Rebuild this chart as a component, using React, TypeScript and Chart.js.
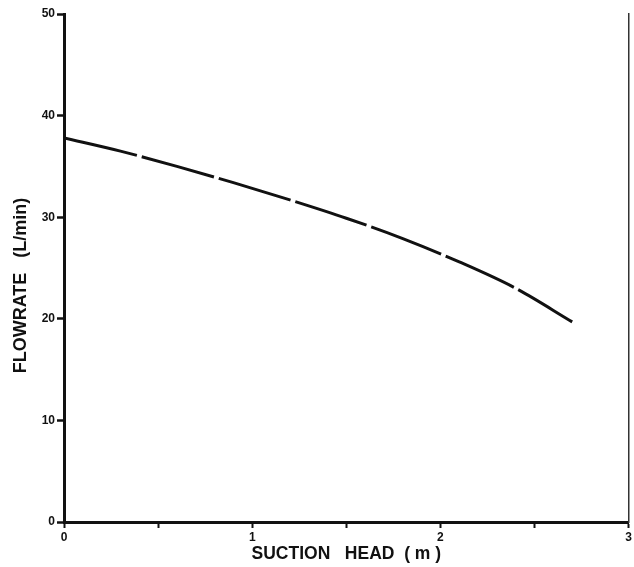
import React, { useEffect, useRef } from "react";
import { Chart, registerables } from "chart.js";

Chart.register(...registerables);

const suctionHead = [0, 0.3, 0.6, 0.9, 1.2, 1.5, 1.8, 2.1, 2.4, 2.7];
const flowrate = [37.8, 36.5, 35.0, 33.4, 31.7, 29.9, 27.9, 25.6, 23.0, 19.7];
const xTickLabels = ["0", "1", "2", "3"];
const yTickLabels = ["0", "10", "20", "30", "40", "50"];
const xTitle = "SUCTION   HEAD  ( m )";
const yTitle = "FLOWRATE   (L/min)       ";

export default function App() {
  const ref = useRef<HTMLCanvasElement | null>(null);

  useEffect(() => {
    if (!ref.current) return;
    const font = "'Liberation Sans', Arial, sans-serif";
    const chart = new Chart(ref.current, {
      type: "line",
      data: {
        datasets: [
          {
            data: suctionHead.map((x, i) => ({ x, y: flowrate[i] })),
            borderColor: "#111",
            borderWidth: 3,
            borderDash: [75, 5],
            pointRadius: 0,
            cubicInterpolationMode: "monotone",
            fill: false,
          },
        ],
      },
      options: {
        animation: false,
        responsive: false,
        devicePixelRatio: 1,
        layout: { padding: { top: 14, right: 0, left: 0, bottom: 0 } },
        plugins: { legend: { display: false }, tooltip: { enabled: false } },
        scales: {
          x: {
            type: "linear",
            min: 0,
            max: 3,
            afterFit: (s: any) => {
              s.height = 45;
            },
            ticks: {
              stepSize: 0.5,
              autoSkip: false,
              maxRotation: 0,
              padding: 2,
              color: "#111",
              font: { family: font, size: 12, weight: "bold" },
              callback: (v: any) => {
                const n = Number(v);
                return Number.isInteger(n) ? xTickLabels[n] : "";
              },
            },
            grid: {
              drawOnChartArea: false,
              drawTicks: true,
              tickLength: 6,
              tickWidth: 2,
              tickColor: "#111",
            },
            border: { display: true, color: "#111", width: 3 },
            title: {
              display: true,
              text: xTitle,
              color: "#111",
              font: { family: font, size: 17.5, weight: "bold" },
              padding: { top: 2, bottom: 2 },
            },
          },
          y: {
            type: "linear",
            min: 0,
            max: 50,
            afterFit: (s: any) => {
              s.width = 64;
            },
            ticks: {
              stepSize: 10,
              padding: 2,
              color: "#111",
              font: { family: font, size: 12, weight: "bold" },
              callback: (v: any) => yTickLabels[Math.round(Number(v) / 10)],
            },
            grid: {
              drawOnChartArea: false,
              drawTicks: true,
              tickLength: 7,
              tickWidth: 2.5,
              tickColor: "#111",
            },
            border: { display: true, color: "#111", width: 3 },
            title: {
              display: true,
              text: yTitle,
              color: "#111",
              font: { family: font, size: 18, weight: "bold" },
              padding: { top: 10, bottom: 2 },
            },
          },
          y2: {
            type: "linear",
            position: "right",
            min: 0,
            max: 50,
            afterFit: (s: any) => {
              s.width = 0;
            },
            ticks: { display: false },
            grid: { display: false },
            border: { display: true, color: "#333", width: 1.5 },
          },
        },
      },
    });
    return () => chart.destroy();
  }, []);

  return (
    <div
      style={{
        position: "fixed",
        left: 0,
        top: 0,
        width: 634,
        height: 567,
        background: "#fff",
      }}
    >
      <canvas ref={ref} width={634} height={567} style={{ width: 634, height: 567 }} />
    </div>
  );
}
